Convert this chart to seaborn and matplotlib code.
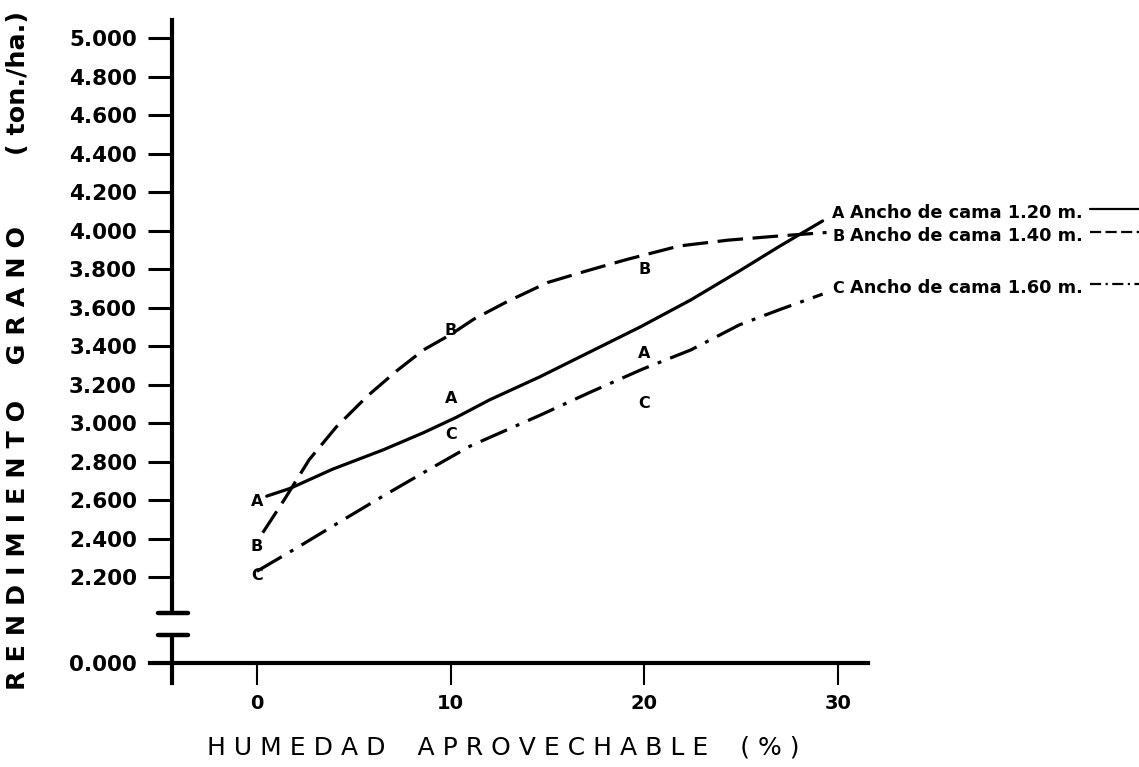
import numpy as np
import pandas as pd
import matplotlib
matplotlib.use('Agg')
import matplotlib.pyplot as plt
import matplotlib.transforms as mtransforms
import seaborn as sns

# puntos observados (letra en cada punto)
x_obs = [0, 10, 20, 30]
a_obs = [2.59, 3.13, 3.36, 4.09]
b_obs = [2.36, 3.48, 3.80, 3.97]
c_obs = [2.21, 2.94, 3.10, 3.70]

# curvas ajustadas
a_x = [0.5, 1.7, 3.9, 6.5, 8.6, 10.3, 12.0, 14.6, 17.2, 19.8, 22.4, 24.9, 27.0, 29.2]
a_y = [2.62, 2.66, 2.76, 2.86, 2.95, 3.03, 3.12, 3.24, 3.37, 3.50, 3.64, 3.79, 3.92, 4.05]
b_x = [0.3, 1.4, 2.7, 4.1, 5.7, 7.2, 8.6, 10.0, 11.2, 12.9, 15.0, 17.0, 19.1, 21.8,
       24.3, 26.7, 29.4]
b_y = [2.43, 2.60, 2.81, 2.98, 3.14, 3.27, 3.38, 3.46, 3.54, 3.63, 3.73, 3.79, 3.85, 3.92,
       3.95, 3.97, 3.99]
c_x = [0.0, 2.2, 4.5, 6.5, 8.9, 11.0, 14.6, 17.2, 19.9, 22.4, 24.9, 27.0, 29.2]
c_y = [2.23, 2.36, 2.50, 2.62, 2.76, 2.88, 3.04, 3.16, 3.28, 3.38, 3.51, 3.59, 3.67]

series = ['A', 'B', 'C']
legend_text = ['Ancho de cama 1.20 m.', 'Ancho de cama 1.40 m.', 'Ancho de cama 1.60 m.']
x_ticks = [0, 10, 20, 30]
y_ticks = [0.0] + [round(2.2 + 0.2 * i, 1) for i in range(15)]

sns.set_theme(style='white')
plt.rcParams['font.family'] = ['DejaVu Sans']
plt.rcParams['text.color'] = 'black'
plt.rcParams['xtick.color'] = 'black'
plt.rcParams['ytick.color'] = 'black'

# eje y cortado: lo que esta bajo 2.200 se comprime
LOW = 2.2
K = 0.2032


def fwd(y):
    y = np.asarray(y, dtype=float)
    return np.where(y >= LOW, y, LOW - (LOW - y) * K)


def inv(y):
    y = np.asarray(y, dtype=float)
    return np.where(y >= LOW, y, LOW - (LOW - y) / K)


fig = plt.figure(figsize=(11.39, 7.67), dpi=100)
ax = fig.add_axes([150 / 1139, 84 / 767, 718 / 1139, 663 / 767])
ax.set_yscale('function', functions=(fwd, inv))
ax.set_xlim(-5.52, 31.54)
ax.set_ylim(-0.51, 5.094)

df = pd.concat([
    pd.DataFrame({'x': a_x, 'y': a_y, 'serie': 'A'}),
    pd.DataFrame({'x': b_x, 'y': b_y, 'serie': 'B'}),
    pd.DataFrame({'x': c_x, 'y': c_y, 'serie': 'C'}),
])
sns.lineplot(data=df, x='x', y='y', style='serie', ax=ax, color='black',
             dashes={'A': '', 'B': (8, 3), 'C': (9, 3, 1.2, 3)},
             linewidth=2.3, estimator=None, sort=False, legend=False)

for lab, vals in zip(series, [a_obs, b_obs, c_obs]):
    for xv, yv in zip(x_obs, vals):
        ax.text(xv, yv, lab, ha='center', va='center', fontsize=11.5,
                fontweight='bold', color='black')

# rotulos de las curvas a la derecha, con su trazo
trans = mtransforms.blended_transform_factory(fig.transFigure, ax.transData)
for lab_y, txt, ls in zip([a_obs[-1], b_obs[-1], c_obs[-1]], legend_text,
                          ['-', (0, (5, 2)), (0, (5, 2, 1, 2))]):
    ax.text(30.6, lab_y, txt, ha='left', va='center', fontsize=12.8,
            fontweight='bold', clip_on=False)
    ax.plot([1090 / 1139, 1.0], [lab_y + 0.02, lab_y + 0.02], transform=trans,
            color='black', lw=1.6, ls=ls, clip_on=False)

ax.spines['left'].set_position(('data', -4.4))
ax.spines['bottom'].set_position(('data', 0))
ax.spines['top'].set_visible(False)
ax.spines['right'].set_visible(False)
for s in ['left', 'bottom']:
    ax.spines[s].set_linewidth(3)
    ax.spines[s].set_color('black')

ax.set_yticks(y_ticks)
ax.set_yticklabels([f'{v:.3f}' for v in y_ticks])
ax.set_xticks(x_ticks)
ax.set_xticklabels([str(v) for v in x_ticks])
ax.tick_params(axis='y', direction='out', length=17, width=2.2, pad=8,
               labelsize=15.5, left=True)
ax.tick_params(axis='x', direction='out', length=16, width=1.5, pad=6,
               labelsize=14, bottom=True)
for t in ax.get_yticklabels() + ax.get_xticklabels():
    t.set_fontweight('bold')
ax.set_xlabel('')
ax.set_ylabel('')

# corte del eje y
y_top_break, y_bot_break = 1.28, 0.72
ax.plot([-4.4, -4.4], [y_bot_break + 0.04, y_top_break - 0.04], color='white',
        lw=6, clip_on=False, zorder=5)
for yb in [y_top_break, y_bot_break]:
    ax.plot([-5.1, -3.55], [yb, yb], color='black', lw=3.2,
            solid_capstyle='round', clip_on=False, zorder=6)

fig.text(503 / 1139, 1 - 748 / 767,
         'H U M E D A D    A P R O V E C H A B L E    ( % )',
         ha='center', va='center', fontsize=18)
fig.text(18 / 1139, 1 - 351 / 767,
         'R E N D I M I E N T O    G R A N O        ( ton./ha.)',
         rotation=90, ha='center', va='center', fontsize=18.3, fontweight='bold')

fig.savefig('out.png', dpi=100, facecolor='white')
